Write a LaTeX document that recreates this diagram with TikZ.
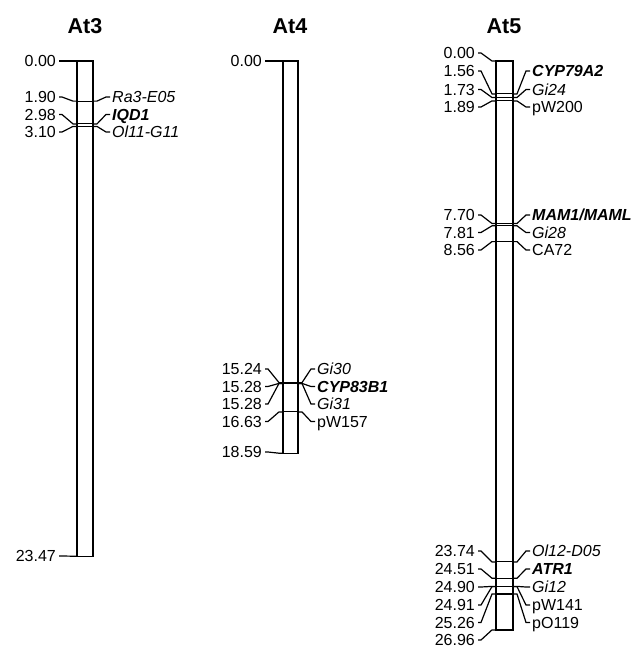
\documentclass[tikz,border=0pt]{standalone}
\usepackage{fontspec}
\setmainfont{Liberation Sans}
\newcommand\LLab[5]{% name, chromosome left x, marker y, label y, text
  \coordinate (#1m) at (#2,#3);
  \node[lbl] (#1) at (#2-21,#4) {#5};
  \draw[conn] ([xshift=3pt]#1.east) -- ++(3,0) -- ([xshift=-4pt]#1m) -- (#1m);
}
\newcommand\RLab[6]{% name, chromosome right x, marker y, label y, text, style
  \coordinate (#1m) at (#2,#3);
  \node[rlbl,#6] (#1) at (#2+19,#4) {#5};
  \draw[conn] (#1m) -- ([xshift=4pt]#1m) -- ([xshift=-6pt]#1.west) -- ([xshift=-2pt]#1.west);
}
\begin{document}
\begin{tikzpicture}[x=1pt,y=-1pt,
  lbl/.style={font=\fontsize{16}{16}\selectfont, inner sep=0pt, text height=11.4pt, text depth=0pt, anchor=east},
  rlbl/.style={font=\fontsize{16}{16}\selectfont, inner sep=0pt, text height=11.4pt, text depth=0pt, anchor=west},
  it/.style={font=\fontsize{16}{16}\selectfont\itshape},
  bi/.style={font=\fontsize{16}{16}\selectfont\bfseries\itshape},
  rm/.style={},
  ttl/.style={font=\fontsize{21.5}{21.5}\selectfont\bfseries, inner sep=0pt},
  chrom/.style={draw, line width=1.3pt},
  conn/.style={line width=1.2pt},
  mk/.style={line width=1.1pt}]
\useasboundingbox (0,0) rectangle (637,651);

% ---------- At3 ----------
\node[ttl] (t3) at (85,26) {At3};
\draw[chrom] (77,61) rectangle (93,556.2);
\foreach \y in {101.1,123.9,126.4} \draw[mk] (77,\y) -- (93,\y);
\LLab{a3l0}{77}{61}{61}{0.00}
\LLab{a3l1}{77}{101.1}{97}{1.90}
\LLab{a3l2}{77}{123.9}{114.5}{2.98}
\LLab{a3l3}{77}{126.4}{132}{3.10}
\LLab{a3l4}{77}{556.2}{556}{23.47}
\RLab{a3r1}{93}{101.1}{97}{Ra3-E05}{it}
\RLab{a3r2}{93}{123.9}{114.5}{IQD1}{bi}
\RLab{a3r3}{93}{126.4}{132}{Ol11-G11}{it}

% ---------- At4 ----------
\node[ttl] (t4) at (290,26) {At4};
\draw[chrom] (283,61) rectangle (298,453.2);
\foreach \y in {382.6,383.4,411.9} \draw[mk] (283,\y) -- (298,\y);
\LLab{a4l0}{283}{61}{61}{0.00}
\LLab{a4l1}{283}{382.6}{369}{15.24}
\LLab{a4l2}{283}{383.4}{386.5}{15.28}
\LLab{a4l3}{283}{383.4}{404}{15.28}
\LLab{a4l4}{283}{411.9}{421.5}{16.63}
\LLab{a4l5}{283}{453.2}{452}{18.59}
\RLab{a4r1}{298}{382.6}{369}{Gi30}{it}
\RLab{a4r2}{298}{383.4}{386.5}{CYP83B1}{bi}
\RLab{a4r3}{298}{383.4}{404}{Gi31}{it}
\RLab{a4r4}{298}{411.9}{421.5}{pW157}{rm}

% ---------- At5 ----------
\node[ttl] (t5) at (504,26) {At5};
\draw[chrom] (496,61) rectangle (513,629.9);
\foreach \y in {93.9,97.5,100.9,223.5,225.8,241.6,561.9,578.2,586.4,586.6,594.0} \draw[mk] (496,\y) -- (513,\y);
\LLab{a5l0}{496}{61}{53}{0.00}
\LLab{a5l1}{496}{93.9}{71}{1.56}
\LLab{a5l2}{496}{97.5}{89.5}{1.73}
\LLab{a5l3}{496}{100.9}{107}{1.89}
\LLab{a5l4}{496}{223.5}{215}{7.70}
\LLab{a5l5}{496}{225.8}{232.5}{7.81}
\LLab{a5l6}{496}{241.6}{250}{8.56}
\LLab{a5l7}{496}{561.9}{551}{23.74}
\LLab{a5l8}{496}{578.2}{569}{24.51}
\LLab{a5l9}{496}{586.4}{587}{24.90}
\LLab{a5l10}{496}{586.6}{605}{24.91}
\LLab{a5l11}{496}{594.0}{622.5}{25.26}
\LLab{a5l12}{496}{629.9}{640}{26.96}
\RLab{a5r1}{513}{93.9}{71}{CYP79A2}{bi}
\RLab{a5r2}{513}{97.5}{89.5}{Gi24}{it}
\RLab{a5r3}{513}{100.9}{107}{pW200}{rm}
\RLab{a5r4}{513}{223.5}{215}{MAM1/MAML}{bi}
\RLab{a5r5}{513}{225.8}{232.5}{Gi28}{it}
\RLab{a5r6}{513}{241.6}{250}{CA72}{rm}
\RLab{a5r7}{513}{561.9}{551}{Ol12-D05}{it}
\RLab{a5r8}{513}{578.2}{569}{ATR1}{bi}
\RLab{a5r9}{513}{586.4}{587}{Gi12}{it}
\RLab{a5r10}{513}{586.6}{605}{pW141}{rm}
\RLab{a5r11}{513}{594.0}{622.5}{pO119}{rm}
\end{tikzpicture}
\end{document}
